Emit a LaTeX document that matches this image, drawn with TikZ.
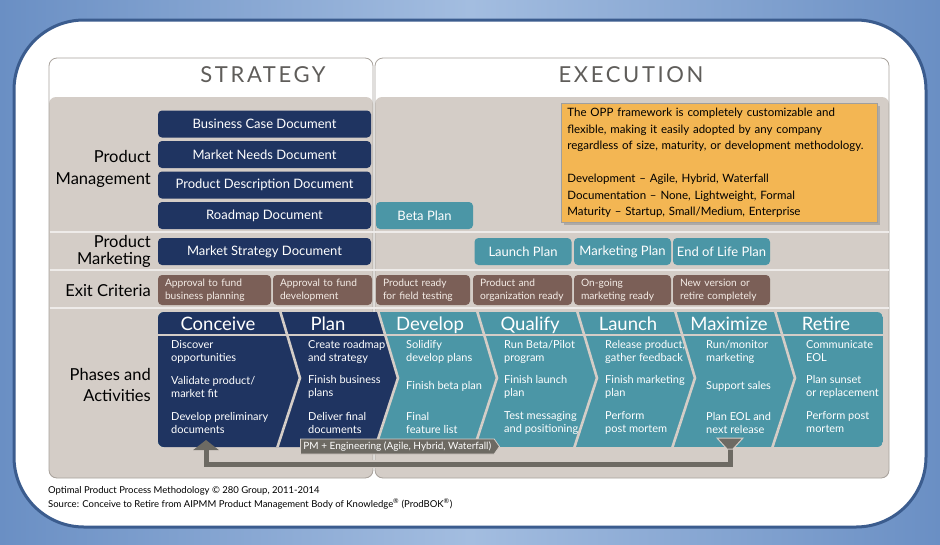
\documentclass[tikz,border=0pt]{standalone}
\usepackage{fontspec}
\setmainfont{Lato}
\newfontfamily\headfont[LetterSpace=12]{Lato}
\usetikzlibrary{arrows.meta,shapes.symbols,shadows}

\definecolor{bgblue}{HTML}{6A8FC4}
\definecolor{bglight}{HTML}{A3BDE0}
\definecolor{frameblue}{HTML}{3B5C8E}
\definecolor{panelgray}{HTML}{D4CDC7}
\definecolor{panelline}{HTML}{A9A39D}
\definecolor{navybox}{HTML}{1F3461}
\definecolor{tealbox}{HTML}{4B96A6}
\definecolor{exitbrown}{HTML}{7B5F57}
\definecolor{exittext}{HTML}{F4ECE6}
\definecolor{notebox}{HTML}{F3B653}
\definecolor{pmgray}{HTML}{6D6A63}
\definecolor{headgray}{HTML}{5F5D5A}

\begin{document}
\begin{tikzpicture}[x=1pt,y=-1pt,
  docbox/.style={fill=navybox,text=white,rounded corners=4pt,minimum height=27pt,
    inner sep=0pt,font=\fontsize{13}{15}\selectfont},
  planbox/.style={docbox,fill=tealbox},
  exitbox/.style={fill=exitbrown,text=exittext,rounded corners=4pt,minimum height=30pt,
    inner xsep=7pt,inner ysep=0pt,align=left,font=\fontsize{10.2}{13}\selectfont},
  rowlabel/.style={anchor=east,align=right,inner sep=0pt},
  phasetitle/.style={anchor=base,text=white,inner sep=0pt,font=\fontsize{18.5}{20}\selectfont},
  activity/.style={anchor=west,align=left,text=white,inner sep=0pt,
    font=\fontsize{11}{13}\selectfont},
  gapline/.style={panelgray,line width=2.6pt},
  pmtag/.style={signal,signal to=east,signal pointer angle=110,fill=pmgray,draw=panelgray,
    line width=0.8pt,text=white,inner xsep=3pt,inner ysep=1pt,minimum height=15pt,
    font=\fontsize{10}{12}\selectfont}]
% pixel grid of the 940x544 picture, y running down
\useasboundingbox (0,0) rectangle (940,544);
\shade[left color=bgblue,right color=bgblue,middle color=bglight] (0,0) rectangle (940,544);
\draw[frameblue,line width=3pt,fill=white,rounded corners=70pt] (14,20) rectangle (926,527);

% strategy and execution panels
\foreach \a/\b in {49/373,375/889}{
  \fill[white,rounded corners=8pt] (\a,58) rectangle (\b,478);
  \fill[panelgray,rounded corners=7pt] (\a,97) rectangle (\b,478);
  \draw[panelline,line width=0.8pt,rounded corners=8pt] (\a,58) rectangle (\b,478);}
\foreach \y in {232,270,308}{
  \draw[white!60!panelgray,line width=1.2pt] (49.5,\y) -- (888.5,\y);}
\node[headgray,font=\headfont\fontsize{22}{24}\selectfont] (strategy) at (263,75) {STRATEGY};
\node[headgray,font=\headfont\fontsize{22}{24}\selectfont] (execution) at (631,75) {EXECUTION};

% row labels
\node[rowlabel,font=\fontsize{16.5}{22}\selectfont] (pmlabel) at (151,169) {Product\\Management};
\node[rowlabel,font=\fontsize{16.5}{17}\selectfont] (mklabel) at (151,251.5) {Product\\Marketing};
\node[rowlabel,font=\fontsize{16.5}{20}\selectfont] (exlabel) at (151,290.5) {Exit Criteria};
\node[rowlabel,font=\fontsize{16.5}{21}\selectfont] (phlabel) at (151,384.5) {Phases and\\Activities};

% documents and plans
\foreach \n/\y/\t in {bcd/124/Business Case Document,mnd/154.5/Market Needs Document,
                      pdd/185/Product Description Document,rmd/215.5/Roadmap Document,
                      msd/251.5/Market Strategy Document}{
  \node[docbox,minimum width=213pt] (\n) at (264.5,\y) {\t};}
\node[planbox,minimum width=97pt] (beta) at (424.5,215.5) {Beta Plan};
\foreach \n/\x/\t in {launchp/523/Launch Plan,mktp/622.5/Marketing Plan,eolp/721.5/End of Life Plan}{
  \node[planbox,minimum width=97pt] (\n) at (\x,251.5) {\t};}

% note
\node[fill=notebox,draw=gray!75,line width=0.8pt,anchor=north west,align=left,
  text width=304pt,minimum height=119pt,inner xsep=6pt,inner ysep=3pt,
  font=\fontsize{11.5}{16.5}\selectfont,
  drop shadow={shadow xshift=3pt,shadow yshift=-3pt,opacity=0.45}] (note) at (561,103)
  {The OPP framework is completely customizable and\\
   flexible, making it easily adopted by any company\\
   regardless of size, maturity, or development methodology.\\[16.5pt]
   Development -- Agile, Hybrid, Waterfall\\
   Documentation -- None, Lightweight, Formal\\
   Maturity -- Startup, Small/Medium, Enterprise};

% exit criteria
\foreach \n/\a/\b/\t in {ex1/158/271/{Approval to fund\\business planning},
                         ex2/273/372/{Approval to fund\\development},
                         ex3/376/470/{Product ready\\for field testing},
                         ex4/473/572/{Product and\\organization ready},
                         ex5/574/671/{On-going\\marketing ready},
                         ex6/673/770/{New version or\\retire completely}}{
  \pgfmathsetmacro\w{\b-\a-14}
  \node[exitbox,text width=\w pt] (\n) at ({(\a+\b)/2},290) {\t};}

% phase band: navy for strategy, teal for execution, chevron gaps on top
\begin{scope}
  \clip[rounded corners=6pt] (158,312) rectangle (883,447);
  \fill[tealbox] (158,312) rectangle (883,447);
  \fill[navybox] (150,305) -- (376,305) -- (398,378) -- (374,452) -- (150,452) -- cycle;
  \draw[gapline] (158,335) -- (883,335);
  \foreach \t in {280,378,477,577,675,775}{
    \draw[gapline] (\t-0.5,309) -- (\t+20,378) -- (\t-3.5,450);}
\end{scope}
\foreach \n/\x/\t in {conceive/218/Conceive,plan/328/Plan,develop/430/Develop,
                      qualify/530/Qualify,launch/628/Launch,maximize/729/Maximize,
                      retire/826/Retire}{
  \node[phasetitle] (\n) at (\x,330) {\t};}

\newcommand{\activities}[5]{%
  \node[activity] (#1a) at (#2,351.5) {#3};
  \node[activity] (#1b) at (#2,386.5) {#4};
  \node[activity] (#1c) at (#2,422.5) {#5};}
\activities{con}{171}{Discover\\opportunities}{Validate product/\\market fit}{Develop preliminary\\documents}
\activities{pla}{308}{Create roadmap\\and strategy}{Finish business\\plans}{Deliver final\\documents}
\activities{dev}{406}{Solidify\\develop plans}{Finish beta plan}{Final\\feature list}
\activities{qua}{504}{Run Beta/Pilot\\program}{Finish launch\\plan}{Test messaging\\and positioning}
\activities{lau}{605}{Release product,\\gather feedback}{Finish marketing\\plan}{Perform\\post mortem}
\activities{max}{706}{Run/monitor\\marketing}{Support sales}{Plan EOL and\\next release}
\activities{ret}{806}{Communicate\\EOL}{Plan sunset\\or replacement}{Perform post\\mortem}

% loop back from maximize to conceive
\coordinate (maxfoot) at (730,449);
\coordinate (confoot) at (206,440);
\draw[panelgray,line width=7.5pt,-{Triangle[width=29pt,length=12pt]}]
  (maxfoot) -- ++(0,15) -| ([yshift=-1.5pt]confoot);
\draw[pmgray,line width=5pt,-{Triangle[width=25pt,length=10pt]}]
  (maxfoot) -- ++(0,15) -| (confoot);
\fill[pmgray,draw=panelgray,line width=1pt] (717,438) -- (743,438) -- (733,449) -- (727,449) -- cycle;
\node[pmtag,anchor=west] (pmeng) at (300,446.5) {PM + Engineering (Agile, Hybrid, Waterfall)};

% source lines
\node[anchor=west,inner sep=0pt,font=\fontsize{9.5}{11}\selectfont] (credit) at (48,491)
  {Optimal Product Process Methodology \textcopyright{} 280 Group, 2011-2014};
\node[anchor=west,inner sep=0pt,font=\fontsize{9.5}{11}\selectfont] (source) at (48,504)
  {Source: Conceive to Retire from AIPMM Product Management Body of
   Knowledge\textsuperscript{\textregistered} (ProdBOK\textsuperscript{\textregistered})};
\end{tikzpicture}
\end{document}
